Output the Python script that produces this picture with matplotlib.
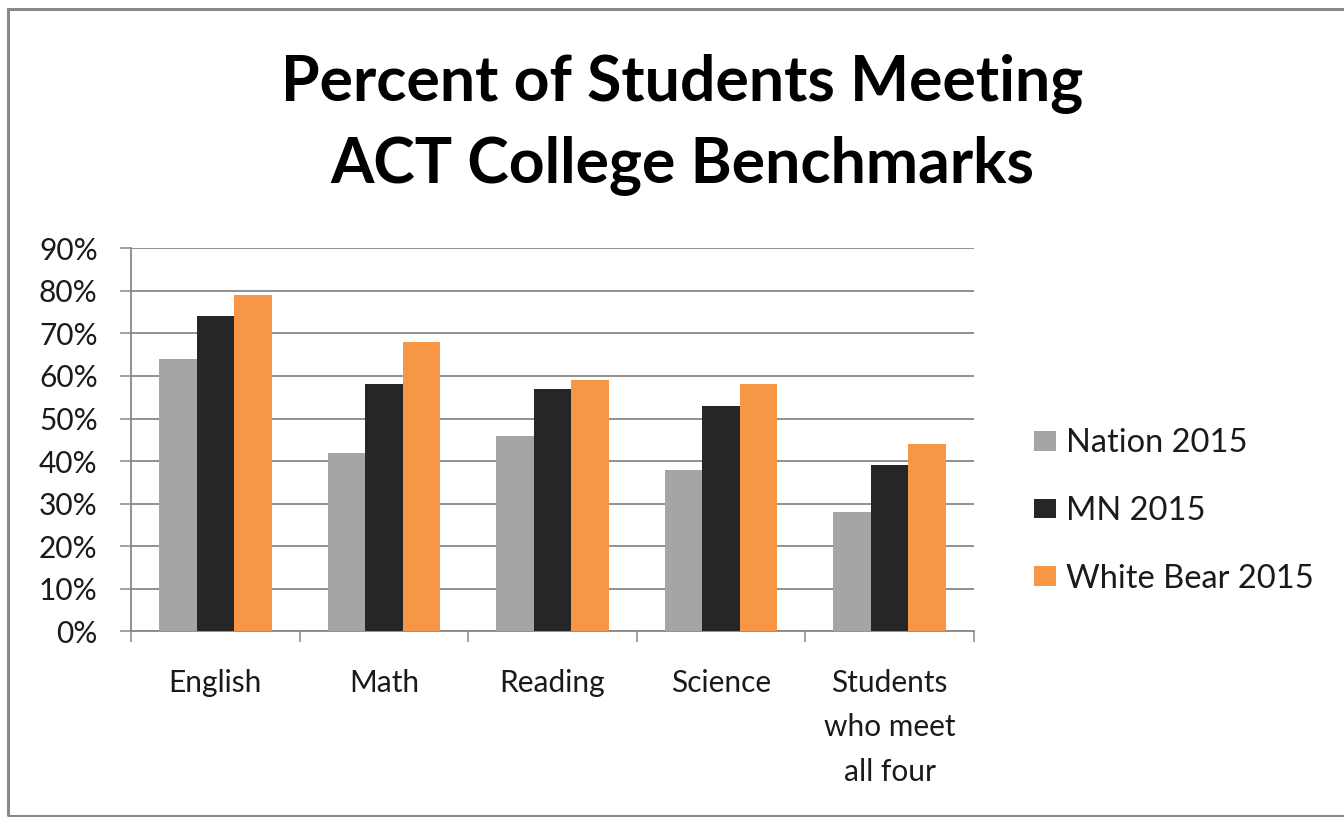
import matplotlib.pyplot as plt
from matplotlib.patches import Rectangle
import numpy as np

categories = ['English', 'Math', 'Reading', 'Science', 'Students\nwho meet\nall four']
nation_2015 = [64, 42, 46, 38, 28]
mn_2015 = [74, 58, 57, 53, 39]
white_bear_2015 = [79, 68, 59, 58, 44]
series_names = ['Nation 2015', 'MN 2015', 'White Bear 2015']
colors = ['#A5A5A5', '#262626', '#F79646']

plt.rcParams['font.family'] = ['Lato', 'DejaVu Sans']

W, H = 1344, 817
fig = plt.figure(figsize=(W / 100, H / 100), dpi=100)

# outer frame (right side runs off the image)
fig.patches.append(Rectangle((7.5 / W, 1 - 815.5 / H), 1.2, (815.5 - 8.5) / H,
                             transform=fig.transFigure, fill=False,
                             edgecolor='#888888', linewidth=2.2))

ax = fig.add_axes([131 / W, 1 - 631.3 / H, (974 - 131) / W, (631.3 - 248.3) / H])

x = np.arange(len(categories))
width = 0.223
data = [nation_2015, mn_2015, white_bear_2015]
handles = []
for i, vals in enumerate(data):
    b = ax.bar(x + (i - 1) * width, np.array(vals) / 100, width, color=colors[i],
               label=series_names[i], zorder=3)
    handles.append(b)

ax.set_xlim(-0.5, len(categories) - 0.5)
ax.set_ylim(0, 0.9)
ax.set_yticks(np.arange(0, 0.91, 0.1))
ax.set_yticklabels([f'{int(round(v * 100))}%' for v in np.arange(0, 0.91, 0.1)])
ax.yaxis.grid(True, color='#888888', linewidth=1.3, zorder=0)
ax.tick_params(axis='y', length=8, width=1.1, color='#888888', pad=16,
               labelsize=21.5, labelcolor='#1a1a1a')

ax.set_xticks(x)
ax.set_xticklabels(categories, linespacing=1.72)
ax.set_xticks(np.arange(-0.5, len(categories), 1), minor=True)
ax.tick_params(axis='x', which='major', length=0, pad=27, labelsize=21.5,
               labelcolor='#1a1a1a')
ax.tick_params(axis='x', which='minor', length=8, width=1.1, color='#888888')
for lab in ax.get_xticklabels():
    lab.set_verticalalignment('top')

for s in ['top', 'right']:
    ax.spines[s].set_visible(False)
for s in ['left', 'bottom']:
    ax.spines[s].set_color('#888888')
    ax.spines[s].set_linewidth(1.3)

fig.text(682 / W, 1 - 124 / H, 'Percent of Students Meeting\nACT College Benchmarks',
         ha='center', va='center', fontsize=45, fontweight='bold',
         linespacing=1.45, color='black')

fig.legend(handles=handles, labels=series_names, loc='center left',
           bbox_to_anchor=(1034 / W, 1 - 511 / H), frameon=False,
           fontsize=23.5, borderpad=0, borderaxespad=0, handlelength=0.67,
           handleheight=0.55, handletextpad=0.3, labelspacing=1.15,
           labelcolor='#1a1a1a')

fig.savefig('out.png', dpi=100, facecolor='white')
